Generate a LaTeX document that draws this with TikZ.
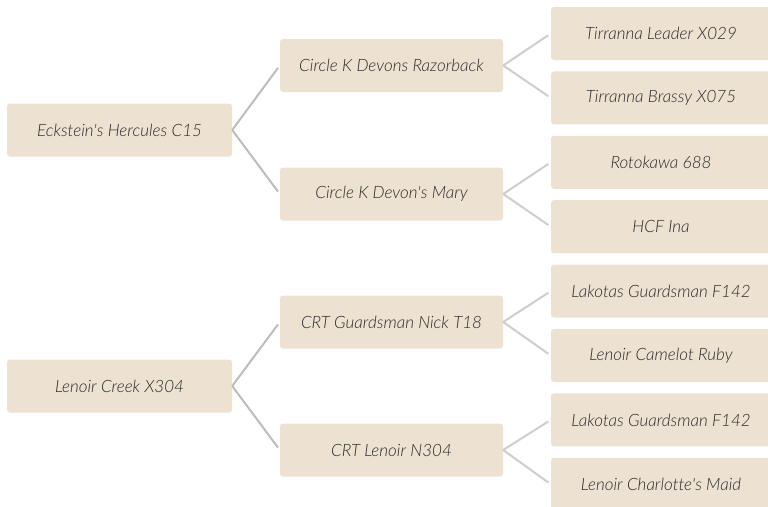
\documentclass[tikz,border=0pt]{standalone}
\usepackage{fontspec}
\setmainfont{Lato Light}[Ligatures=NoCommon]
\usetikzlibrary{positioning}
\definecolor{boxfill}{HTML}{EDE1D1}
\definecolor{boxtext}{HTML}{2B2B2B}
\definecolor{linkgray}{HTML}{BDBDBD}
\definecolor{linklight}{HTML}{CECECE}

\begin{document}
\begin{tikzpicture}[x=1pt,y=-1pt,node distance=11pt,
                    font=\fontsize{17}{20}\selectfont\itshape]
  \tikzstyle{horse}=[fill=boxfill,text=boxtext,rounded corners=3pt,
                     minimum height=53pt,inner sep=0pt]
  \tikzstyle{sire}=[horse,minimum width=225pt]
  \tikzstyle{parent}=[horse,minimum width=223pt]
  \tikzstyle{grand}=[horse,minimum width=220pt]
  \tikzstyle{link}=[draw=linkgray,line width=2pt,shorten >=3pt]
  \tikzstyle{link2}=[draw=linklight,line width=2pt,shorten >=3pt]

  \useasboundingbox (0,0) rectangle (768,506);

  % first generation
  \node[sire]   (eck)  at (119.5,130) {Eckstein\textquotesingle s Hercules C15};
  \node[sire]   (lcx)  at (119.5,386) {Lenoir Creek X304};

  % second generation
  \node[parent] (ckr)  at (391.5,65.5) {Circle K Devons Razorback};
  \node[parent] (ckm)  at (391.5,194)  {Circle K Devon\textquotesingle s Mary};
  \node[parent] (crn)  at (391.5,322)  {CRT Guardsman Nick T18};
  \node[parent] (crl)  at (391.5,450)  {CRT Lenoir N304};

  % third generation
  \node[grand]  (tl)   at (661,33.5)   {Tirranna Leader X029};
  \node[grand]  (tb)   [below=of tl]   {Tirranna Brassy X075};
  \node[grand]  (rk)   [below=of tb]   {Rotokawa 688};
  \node[grand]  (hcf)  [below=of rk]   {HCF Ina};
  \node[grand]  (lg1)  [below=of hcf]  {Lakotas Guardsman F142};
  \node[grand]  (lcr)  [below=of lg1]  {Lenoir Camelot Ruby};
  \node[grand]  (lg2)  [below=of lcr]  {Lakotas Guardsman F142};
  \node[grand]  (lcm)  [below=of lg2]  {Lenoir Charlotte\textquotesingle s Maid};

  \path (eck.east) edge[link] (ckr.west)
                   edge[link] (ckm.west)
        (lcx.east) edge[link] (crn.west)
                   edge[link] (crl.west);
  \path (ckr.east) edge[link2] (tl.west)
                   edge[link2] (tb.west)
        (ckm.east) edge[link2] (rk.west)
                   edge[link2] (hcf.west)
        (crn.east) edge[link2] (lg1.west)
                   edge[link2] (lcr.west)
        (crl.east) edge[link2] (lg2.west)
                   edge[link2] (lcm.west);
\end{tikzpicture}
\end{document}
